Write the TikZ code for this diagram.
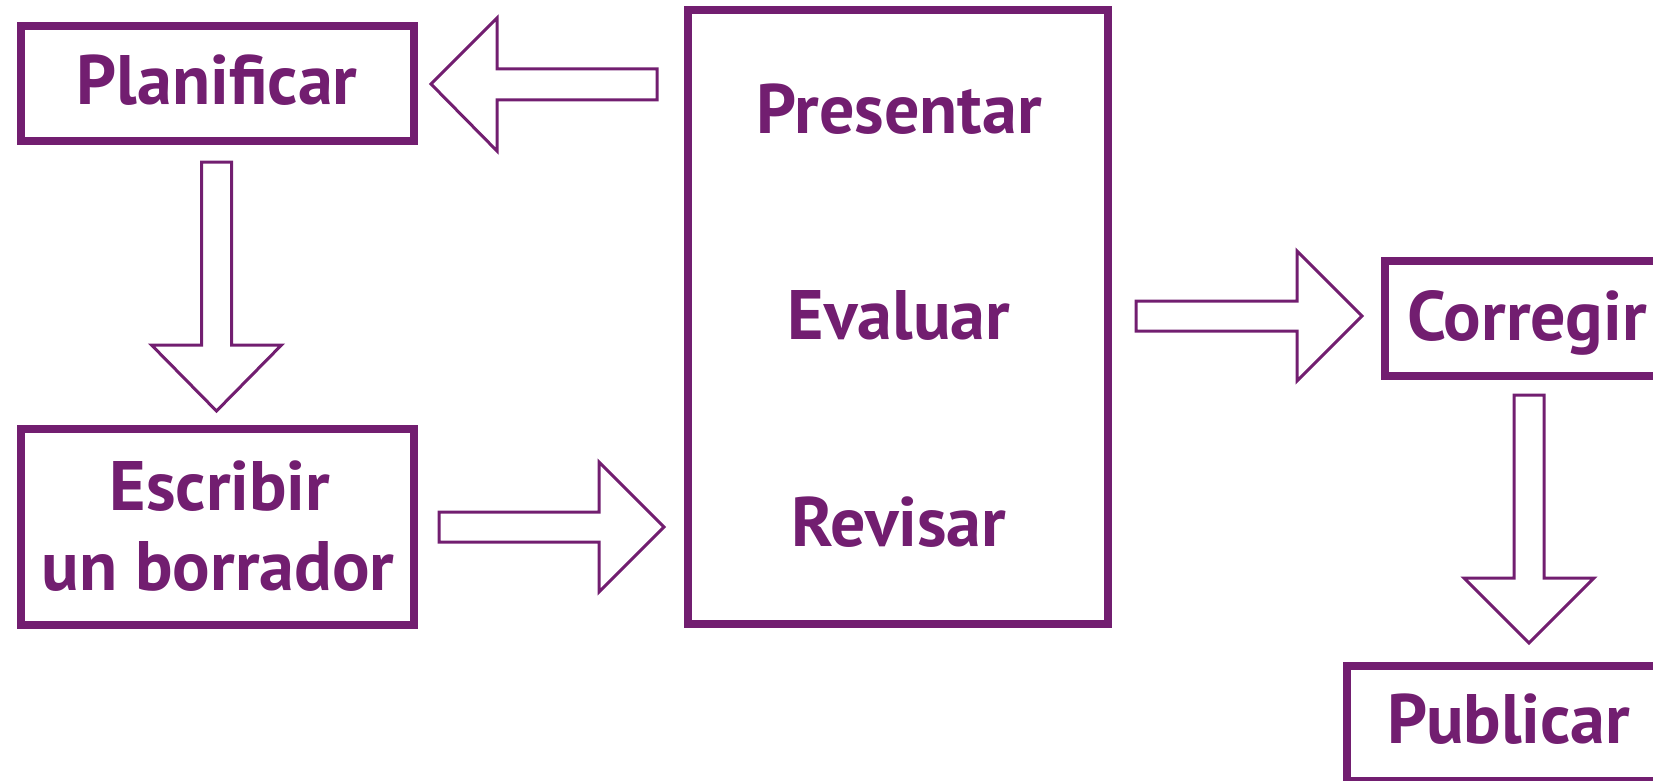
\documentclass[tikz,border=0pt]{standalone}
\usepackage{fontspec}
\newfontfamily\lblfont{PT Sans}
\definecolor{purp}{RGB}{114,30,112}
\tikzset{
  box/.style={draw=purp, line width=8pt, inner sep=0pt, fill=none},
  lbl/.style={text=purp, font=\lblfont\bfseries\fontsize{70}{82}\selectfont, inner sep=0pt},
  arr/.style={draw=purp, line width=3pt, line join=miter},
}
\newcommand\rarrow[4]{\draw[arr] (#1,#2-15) -- (#3,#2-15) -- (#3,#2-65) -- (#4,#2) -- (#3,#2+65) -- (#3,#2+15) -- (#1,#2+15) -- cycle;}
\newcommand\darrow[4]{\draw[arr] (#1-15,#2) -- (#1-15,#3) -- (#1-65,#3) -- (#1,#4) -- (#1+65,#3) -- (#1+15,#3) -- (#1+15,#2) -- cycle;}
\begin{document}
\begin{tikzpicture}[x=1pt,y=-1pt]
\useasboundingbox (0,0) rectangle (1653,781);
\clip (0,0) rectangle (1653,781);
% boxes
\node[box, minimum width=393pt, minimum height=115.5pt] (plan) at (217.4,83.5) {};
\node[lbl, anchor=base] (planT) at (217,105) {Planificar};
\node[box, minimum width=393pt, minimum height=195.5pt] (esc) at (217.4,526.8) {};
\node[lbl, anchor=base] (escT1) at (220,510) {Escribir};
\node[lbl, anchor=base] (escT2) at (218,590) {un borrador};
\node[box, minimum width=420pt, minimum height=614pt] (big) at (898,317) {};
\node[lbl, anchor=base] (pres) at (899,133) {Presentar};
\node[lbl, anchor=base] (eval) at (899,339) {Evaluar};
\node[lbl, anchor=base] (rev) at (899,546) {Revisar};
\node[box, minimum width=335pt, minimum height=115pt] (corr) at (1552.3,318.3) {};
\node[lbl, anchor=base west] (corrT) at (1407,340) {Corregir};
\node[box, minimum width=373pt, minimum height=115pt] (pub) at (1533.5,723.8) {};
\node[lbl, anchor=base] (pubT) at (1509,743) {Publicar};
% arrows
\draw[arr] (657,69) -- (497,69) -- (497,18) -- (431,84) -- (497,151) -- (497,100) -- (657,100) -- cycle;
\darrow{216.5}{162}{345}{411}
\rarrow{439}{527}{599}{664}
\rarrow{1136}{316}{1297}{1362}
\darrow{1529}{395}{578}{643}
\end{tikzpicture}
\end{document}
